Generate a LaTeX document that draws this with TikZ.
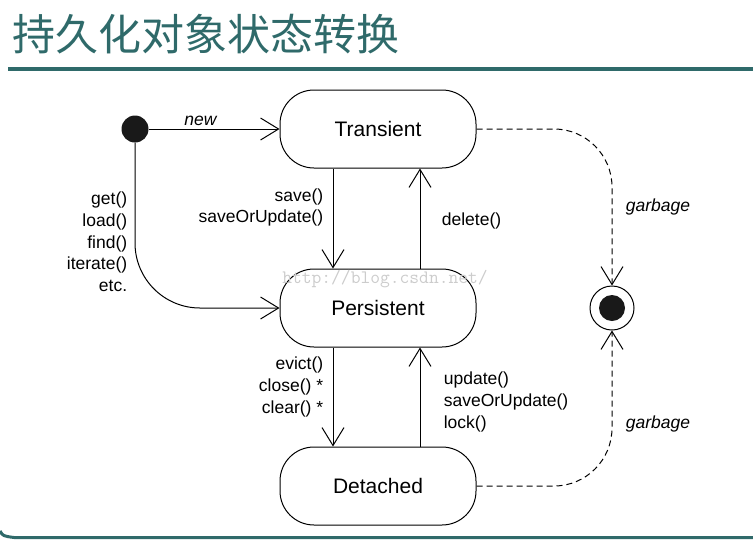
\documentclass[tikz,border=0pt]{standalone}
\usepackage{fontspec}
\setmainfont{Liberation Sans}
\newfontfamily\cjk{Noto Sans CJK SC}
\usetikzlibrary{positioning,arrows.meta}
\definecolor{slate}{RGB}{47,106,106}

\begin{document}
\begin{tikzpicture}[x=1pt, y=-1pt, node distance=100pt,
  stbox/.style={draw, line width=1pt, rounded corners=34pt, minimum width=196pt, minimum height=78pt, font=\fontsize{21}{25}\selectfont},
  startstate/.style={circle, fill=black!90, minimum size=27pt, inner sep=0pt},
  endstate/.style={circle, draw, line width=1pt, minimum size=44pt, inner sep=0pt,
    path picture={\fill[black!90] (path picture bounding box.center) circle (13pt);}},
  trans/.style={line width=1pt, -{Straight Barb[length=18pt,width=22pt]}},
  lbl/.style={font=\fontsize{17.5}{21.7}\selectfont}]
\useasboundingbox (0,0) rectangle (753,539);
\node (title) [text=slate, font=\cjk\fontsize{43}{43}\selectfont, anchor=west, inner sep=0pt] at (12,34) {持久化对象状态转换};
\draw[slate, line width=4pt] (8,69) -- (753,69);
\draw[slate, line width=3pt] (0,531) .. controls (3,536) .. (14,537.5) -- (753,537.5);
\node (start) [startstate] at (135,129) {};
\node (T) [stbox] at (378,129) {Transient};
  \node (P) [stbox, below=of T] {Persistent};
  \node (D) [stbox, below=99pt of P] {Detached};
  \node (end) [endstate, right=113pt of P] {};
   \draw[trans] (start) to node [lbl, above, pos=.4] {\textit{new}} (T);
   \draw[trans, rounded corners=65pt] (start) |- node [lbl, left=4pt, pos=.3, align=right] {get()\\load()\\find()\\iterate()\\etc.} (P);
   \draw[trans] ([xshift=-45pt]T.south) to node [lbl, left=6pt, pos=.39, align=right] {save()\\saveOrUpdate()} ([xshift=-45pt]P.north);
   \draw[trans] ([xshift=42pt]P.north) to node [lbl, right=18pt, pos=.48] {delete()} ([xshift=42pt]T.south);
   \draw[trans] ([xshift=-45pt]P.south) to node [lbl, left=6pt, pos=.4, align=right] {evict()\\close() *\\clear() *} ([xshift=-45pt]D.north);
   \draw[trans] ([xshift=42pt]D.north) to node [lbl, right=20pt, pos=.45, align=left] {update()\\saveOrUpdate()\\lock()} ([xshift=42pt]P.south);
   \draw[trans, dash pattern=on 6pt off 4pt, rounded corners=58pt] (T) -| node [lbl, right=10pt, pos=.75] {\textit{garbage}} (end);
   \draw[trans, dash pattern=on 6pt off 4pt, rounded corners=58pt] (D) -| node [lbl, right=10pt, pos=.7] {\textit{garbage}} (end);
\node (watermark) [text=gray!40, font=\ttfamily\fontsize{19}{19}\selectfont] at (385,279) {http://blog.csdn.net/};
\end{tikzpicture}
\end{document}
